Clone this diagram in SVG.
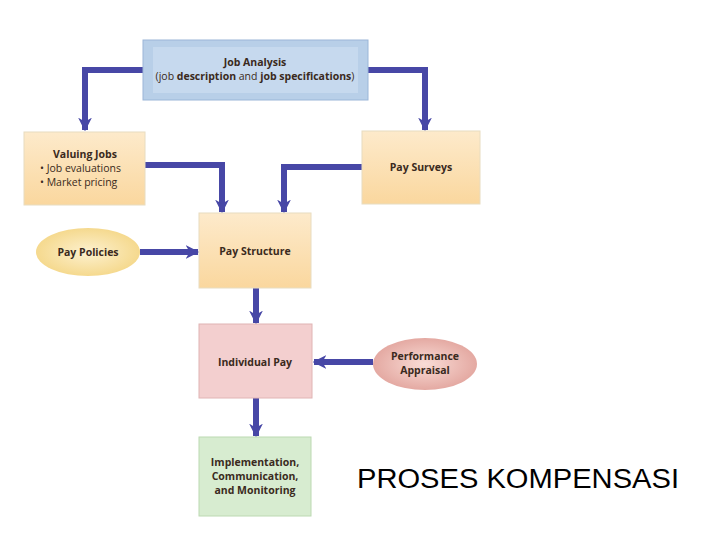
<svg xmlns="http://www.w3.org/2000/svg" width="720" height="540" viewBox="0 0 720 540">
<defs>
<style>
.t{font-family:"Open Sans","Liberation Sans",sans-serif;font-size:10.5px;fill:#3a2a20;text-anchor:middle}
.b{font-weight:bold}
.c{fill:none;stroke:#4747a6;stroke-width:6}
.box{stroke:#e8dcc0;stroke-width:1}
</style>
<linearGradient id="y" x1="0" y1="0" x2="0" y2="1"><stop offset="0" stop-color="#fdeacb"/><stop offset="1" stop-color="#fad79e"/></linearGradient>
<radialGradient id="ye"><stop offset="0" stop-color="#fdf1cf"/><stop offset="1" stop-color="#f5d98e"/></radialGradient>
<radialGradient id="pe"><stop offset="0" stop-color="#f9dcd6"/><stop offset="1" stop-color="#e4a9a2"/></radialGradient>
<marker id="a" viewBox="0 0 10 10" refX="9" refY="5" markerWidth="2.3" markerHeight="2.3" orient="auto"><path d="M0,0L10,5L0,10L3,5z" fill="#4747a6"/></marker>
</defs>
<rect width="720" height="540" fill="#fff"/>
<g id="connectors">
<path class="c" d="M145,70H85V130" marker-end="url(#a)"/>
<path class="c" d="M366,70H425V130" marker-end="url(#a)"/>
<path class="c" d="M145,165H222V212" marker-end="url(#a)"/>
<path class="c" d="M362,167H284V212" marker-end="url(#a)"/>
<path class="c" d="M140,252H198" marker-end="url(#a)"/>
<path class="c" d="M256,288V323" marker-end="url(#a)"/>
<path class="c" d="M373,362H314" marker-end="url(#a)"/>
<path class="c" d="M256,398V436" marker-end="url(#a)"/>
</g>
<g id="job-analysis"><rect x="143" y="40" width="225" height="60" fill="#b8cfe8" stroke="#9bb6d8"/><rect x="153" y="47" width="205" height="46" fill="#c6d9ee"/>
<text class="t b" x="255" y="66">Job Analysis</text><text class="t" x="255" y="80">(job <tspan class="b">description</tspan> and <tspan class="b">job specifications</tspan>)</text></g>
<g id="valuing-jobs"><rect class="box" x="24" y="132" width="121" height="73" fill="url(#y)"/>
<text class="t b" x="85" y="158">Valuing Jobs</text><text class="t" style="text-anchor:start" x="40" y="172">• Job evaluations</text><text class="t" style="text-anchor:start" x="40" y="186">• Market pricing</text></g>
<g id="pay-surveys"><rect class="box" x="362" y="131" width="118" height="73" fill="url(#y)"/><text class="t b" x="421" y="171">Pay Surveys</text></g>
<g id="pay-policies"><ellipse cx="88" cy="252" rx="52" ry="24" fill="url(#ye)"/><text class="t b" x="88" y="256">Pay Policies</text></g>
<g id="pay-structure"><rect class="box" x="199" y="213" width="112" height="75" fill="url(#y)"/><text class="t b" x="255" y="255">Pay Structure</text></g>
<g id="individual-pay"><rect x="199" y="324" width="113" height="74" fill="#f3cfcf" stroke="#e0b4b4"/><text class="t b" x="255" y="366">Individual Pay</text></g>
<g id="performance-appraisal"><ellipse cx="425" cy="364" rx="52" ry="26" fill="url(#pe)"/><text class="t b" x="425" y="360">Performance</text><text class="t b" x="425" y="374">Appraisal</text></g>
<g id="implementation"><rect x="199" y="437" width="112" height="79" fill="#d7ecd0" stroke="#bcd9b2"/><text class="t b" x="255" y="466">Implementation,</text><text class="t b" x="255" y="480">Communication,</text><text class="t b" x="255" y="494">and Monitoring</text></g>
<text x="518" y="488" font-family="'Liberation Sans',sans-serif" font-size="27" text-anchor="middle" fill="#000" textLength="322" lengthAdjust="spacingAndGlyphs">PROSES KOMPENSASI</text>
</svg>
